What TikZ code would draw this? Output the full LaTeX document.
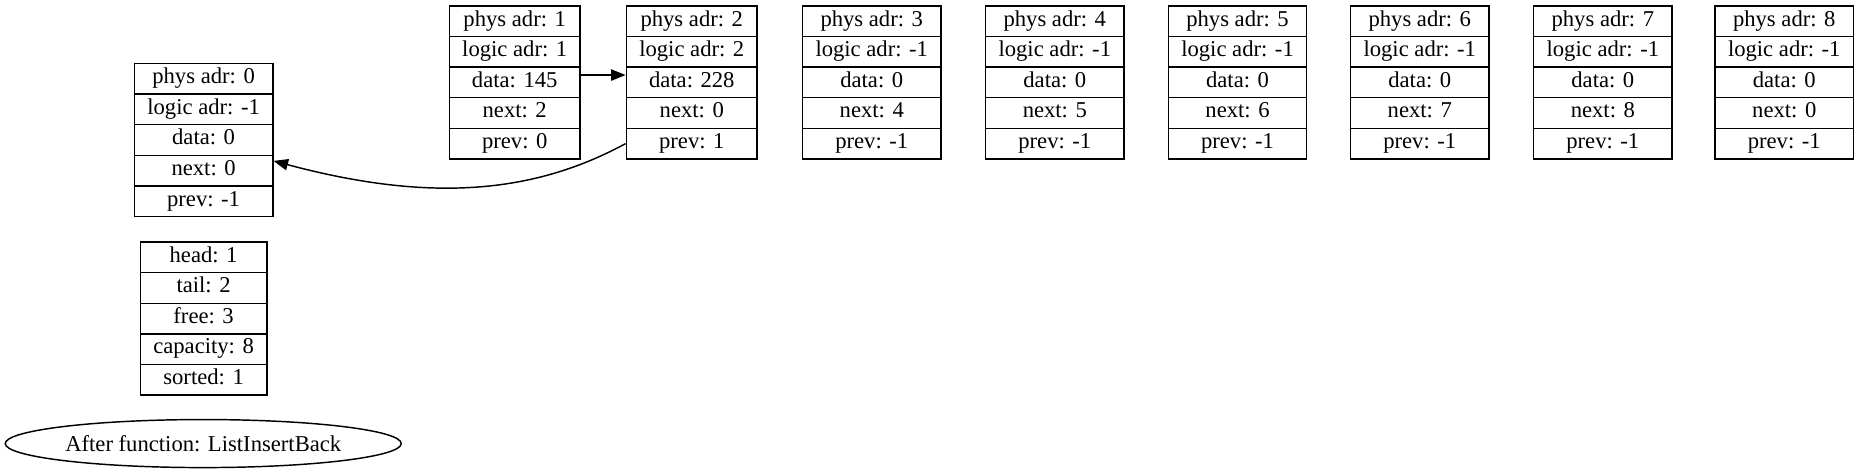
\documentclass[tikz,border=0pt]{standalone}
\usepackage{fontspec}
\setmainfont{Liberation Serif}
\usetikzlibrary{shapes.multipart,shapes.geometric,arrows.meta}
\newcommand{\rs}{\rule[-4pt]{0pt}{14pt}}
\begin{document}
\begin{tikzpicture}[x=1pt,y=-1pt,
  rec/.style={draw,line width=0.9pt,rectangle split,rectangle split parts=5,
    inner xsep=8pt,inner ysep=2pt,font=\fontsize{14}{16}\selectfont},
  lnk/.style={line width=0.9pt,-{Triangle[length=9pt,width=7pt]}}]
\useasboundingbox (0,0) rectangle (1149,292.5);
\node[rec] (b0) at (125.9,86.6) {\rs phys adr: 0\nodepart{two}\rs logic adr: -1\nodepart{three}\rs data: 0\nodepart{four}\rs next: 0\nodepart{five}\rs prev: -1};
\node[rec] (b1) at (318.3,51) {\rs phys adr: 1\nodepart{two}\rs logic adr: 1\nodepart{three}\rs data: 145\nodepart{four}\rs next: 2\nodepart{five}\rs prev: 0};
\node[rec] (b2) at (427.8,51) {\rs phys adr: 2\nodepart{two}\rs logic adr: 2\nodepart{three}\rs data: 228\nodepart{four}\rs next: 0\nodepart{five}\rs prev: 1};
\node[rec] (b3) at (539.1,51) {\rs phys adr: 3\nodepart{two}\rs logic adr: -1\nodepart{three}\rs data: 0\nodepart{four}\rs next: 4\nodepart{five}\rs prev: -1};
\node[rec] (b4) at (652.3,51) {\rs phys adr: 4\nodepart{two}\rs logic adr: -1\nodepart{three}\rs data: 0\nodepart{four}\rs next: 5\nodepart{five}\rs prev: -1};
\node[rec] (b5) at (765.3,51) {\rs phys adr: 5\nodepart{two}\rs logic adr: -1\nodepart{three}\rs data: 0\nodepart{four}\rs next: 6\nodepart{five}\rs prev: -1};
\node[rec] (b6) at (878.0,51) {\rs phys adr: 6\nodepart{two}\rs logic adr: -1\nodepart{three}\rs data: 0\nodepart{four}\rs next: 7\nodepart{five}\rs prev: -1};
\node[rec] (b7) at (991.2,51) {\rs phys adr: 7\nodepart{two}\rs logic adr: -1\nodepart{three}\rs data: 0\nodepart{four}\rs next: 8\nodepart{five}\rs prev: -1};
\node[rec] (b8) at (1103.4,51) {\rs phys adr: 8\nodepart{two}\rs logic adr: -1\nodepart{three}\rs data: 0\nodepart{four}\rs next: 0\nodepart{five}\rs prev: -1};
\node[rec] (info) at (125.9,197) {\rs head: 1\nodepart{two}\rs tail: 2\nodepart{three}\rs free: 3\nodepart{four}\rs capacity: 8\nodepart{five}\rs sorted: 1};
\node[draw,ellipse,line width=0.9pt,minimum width=244.9pt,minimum height=29.7pt,inner sep=0pt,
  font=\fontsize{14}{16}\selectfont] (title) at (125.7,274.3) {After function: ListInsertBack};
\draw[lnk] ([yshift=4.6pt]b1.three east) -- ([yshift=4.6pt]b2.three west);
\draw[lnk] (b2.five west) .. controls +(208.5:65pt) and +(-15:100pt) .. ([yshift=6pt]b0.four east);
\end{tikzpicture}
\end{document}
